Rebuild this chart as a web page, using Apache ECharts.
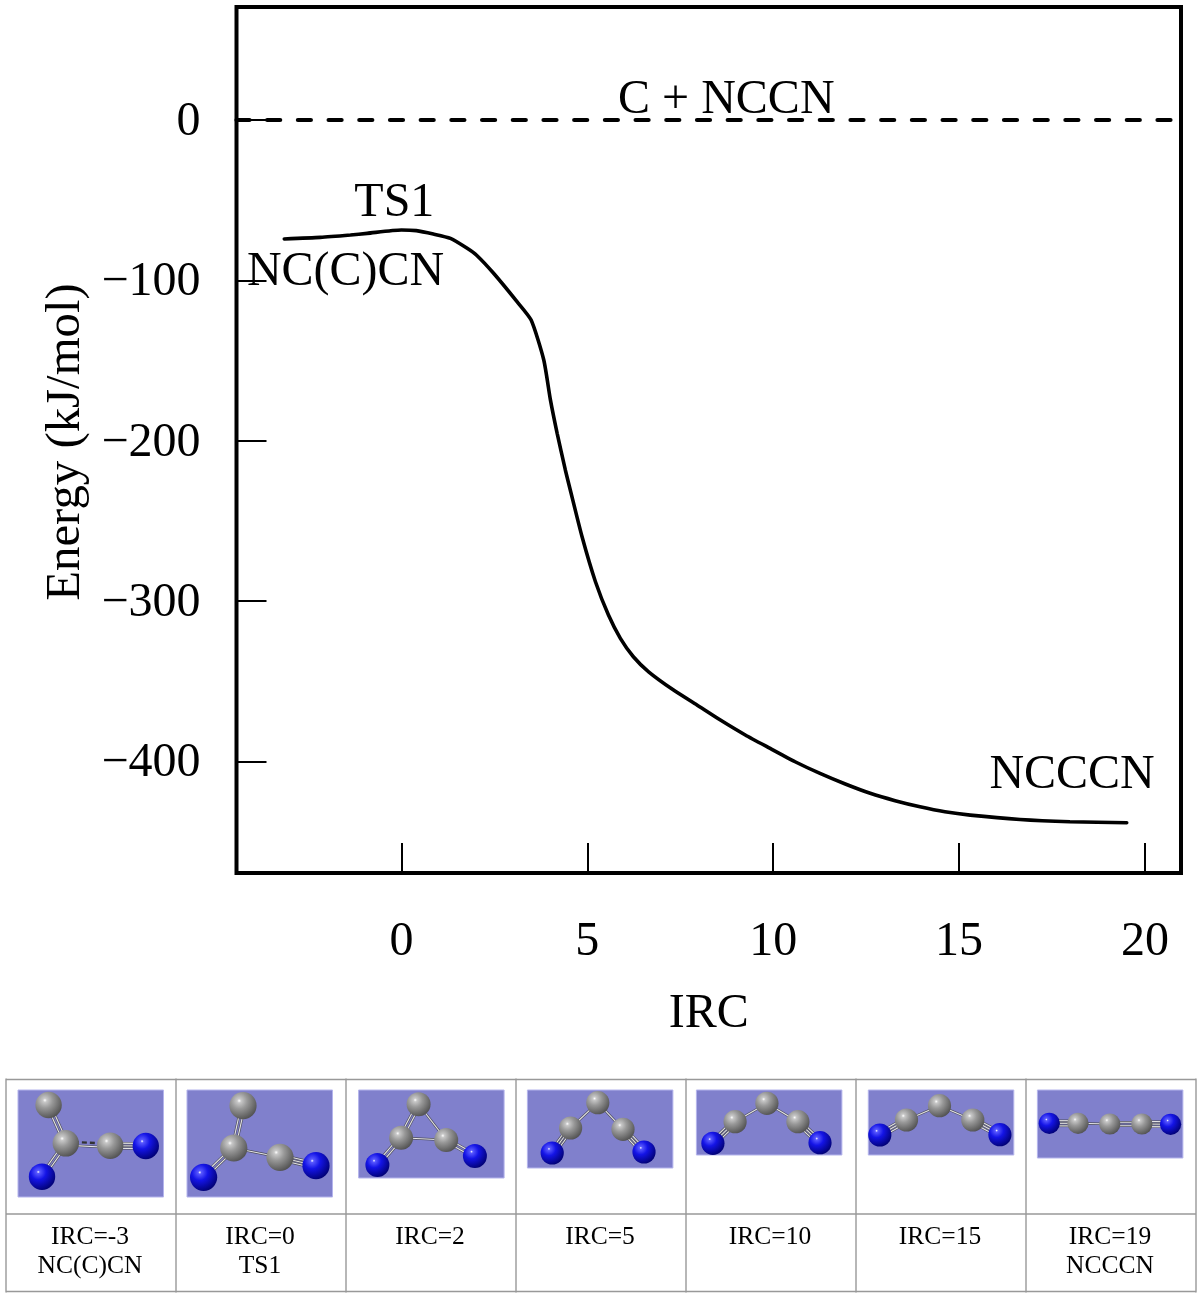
<!DOCTYPE html>
<html lang="en">
<head>
<meta charset="UTF-8">
<title>IRC energy profile</title>
<style>
  html, body { margin: 0; padding: 0; background: #fff; }
  #chart { width: 1200px; height: 1296px; }
</style>
<script src="https://cdn.jsdelivr.net/npm/echarts@6/dist/echarts.min.js"></script>
</head>
<body>
<div id="chart"></div>
<script>
// energy curve
var ircValues = [-3.15, -2.18, -1.37, -0.92, 0, 0.4, 0.86, 1.32, 1.77, 2.03, 2.48, 3.11, 3.49, 3.83, 4.01, 4.19, 4.41, 4.54, 4.86, 5.22, 5.57, 5.89, 6.24, 6.65, 7.32, 7.95, 8.58, 9.25, 9.92, 10.59, 11.26, 11.94, 12.61, 13.28, 13.95, 14.62, 15.3, 16.64, 17.98, 19.51];
var energyValues = [-74.2, -73.2, -71.7, -70.7, -68.6, -69, -71.1, -73.8, -80, -84.5, -95.6, -113.3, -124.8, -149.7, -174.7, -195.4, -218.3, -230.5, -260, -288, -308.8, -323.3, -334.8, -344.2, -355.6, -364.9, -374.3, -383.6, -392, -400.3, -407.6, -414.2, -420, -424.6, -428.4, -431.5, -433.6, -436.3, -437.7, -438.4];

var xTicks = [0, 5, 10, 15, 20];
var yTicks = [0, -100, -200, -300, -400];
var xRange = [-4.435, 20.97];
var yRange = [-469.7, 70.5];

var annotationTexts = ['C + NCCN', 'TS1', 'NC(C)CN', 'NCCCN'];
var annotationX = [8.74, -0.19, -1.5, 18.04];
var annotationY = [13.7, -50.5, -93.6, -407.4];

// table under the chart
var cellLabels = ['IRC=-3\nNC(C)CN', 'IRC=0\nTS1', 'IRC=2', 'IRC=5', 'IRC=10', 'IRC=15', 'IRC=19\nNCCCN'];

// molecules: atoms are [x, y, element] in panel units, bonds are [atom, atom, order]
var atoms0 = [[30.6, 15, 'C'], [47.8, 53.3, 'C'], [92.2, 55.7, 'C'], [127.8, 56, 'N'], [24, 86.7, 'N']];
var bonds0 = [[0, 1, 2], [1, 4, 2], [1, 2, 1.5], [2, 3, 3]];
var atoms1 = [[56, 15.7, 'C'], [46.8, 58, 'C'], [93, 67.3, 'C'], [129, 75.7, 'N'], [16.6, 87.3, 'N']];
var bonds1 = [[0, 1, 2], [1, 4, 2], [1, 2, 1], [2, 3, 3]];
var atoms2 = [[60, 14.3, 'C'], [42.5, 47.7, 'C'], [87.6, 50, 'C'], [18.8, 75, 'N'], [116.3, 66, 'N']];
var bonds2 = [[0, 1, 2], [0, 2, 1], [1, 2, 1], [1, 3, 2], [2, 4, 2]];
var atoms3 = [[70.4, 12.7, 'C'], [43.2, 38, 'C'], [95.6, 39.3, 'C'], [24.8, 63, 'N'], [116.6, 62, 'N']];
var bonds3 = [[0, 1, 1], [0, 2, 1], [1, 3, 3], [2, 4, 3]];
var atoms4 = [[70.5, 13.3, 'C'], [38.7, 31.7, 'C'], [101.5, 31.7, 'C'], [16.5, 53.3, 'N'], [123.6, 52.7, 'N']];
var bonds4 = [[0, 1, 1], [0, 2, 1], [1, 3, 3], [2, 4, 3]];
var atoms5 = [[71.2, 15.7, 'C'], [38.2, 30, 'C'], [104.5, 30, 'C'], [11.5, 45, 'N'], [131.6, 44.7, 'N']];
var bonds5 = [[0, 1, 1], [0, 2, 1], [1, 3, 3], [2, 4, 3]];
var atoms6 = [[11.9, 33.3, 'N'], [40.6, 33.3, 'C'], [72.4, 34, 'C'], [104.5, 34, 'C'], [133.2, 34.3, 'N']];
var bonds6 = [[0, 1, 3], [1, 2, 1], [2, 3, 2], [3, 4, 3]];

var moleculeAtoms = [atoms0, atoms1, atoms2, atoms3, atoms4, atoms5, atoms6];
var moleculeBonds = [bonds0, bonds1, bonds2, bonds3, bonds4, bonds5, bonds6];

// layout
var SERIF = '"Liberation Serif", "Times New Roman", serif';
var colEdges = [6, 176, 346, 516, 686, 856, 1026, 1196];
var rowEdges = [1079.5, 1214, 1291.5];
var panelLeft = [18, 187, 358.6, 527.4, 696.4, 868.3, 1037.4];
var panelHeight = [107, 107, 88, 78, 65, 65, 68];
var panelWidth = 145.5, panelTop = 1090;
var atomRadius = [13.2, 13.6, 12, 11.6, 11.6, 11.6, 10.6];

var carbonFill = new echarts.graphic.RadialGradient(0.36, 0.32, 0.74, [
  { offset: 0, color: '#ffffff' }, { offset: 0.1, color: '#c8c8c8' },
  { offset: 0.4, color: '#989898' }, { offset: 1, color: '#4e4e4e' }
]);
var nitrogenFill = new echarts.graphic.RadialGradient(0.36, 0.32, 0.74, [
  { offset: 0, color: '#ffffff' }, { offset: 0.08, color: '#5a5aff' },
  { offset: 0.4, color: '#1414e6' }, { offset: 1, color: '#00006e' }
]);

function renderBond(params, api) {
  var a = api.coord([api.value(0), api.value(1)]);
  var b = api.coord([api.value(2), api.value(3)]);
  var order = api.value(4);
  var dx = b[0] - a[0], dy = b[1] - a[1];
  var len = Math.sqrt(dx * dx + dy * dy);
  var nx = -dy / len, ny = dx / len;
  var offsets = order >= 3 ? [-2.6, 0, 2.6] : (order >= 1.5 ? [-1.8, 1.8] : [0]);
  var children = [];
  offsets.forEach(function (o, i) {
    var dashed = order === 1.5 && i === 0;
    var shape = { x1: a[0] + nx * o, y1: a[1] + ny * o, x2: b[0] + nx * o, y2: b[1] + ny * o };
    children.push({ type: 'line', shape: shape, style: { stroke: dashed ? '#333' : '#4c4c5c', lineWidth: 2.4, lineDash: dashed ? [5, 3] : null } });
    if (!dashed) {
      children.push({ type: 'line', shape: shape, style: { stroke: '#e4e4e4', lineWidth: 1.1 } });
    }
  });
  return { type: 'group', children: children };
}

var grids = [{ left: 236.5, top: 7, width: 944.5, height: 866, show: true, borderColor: '#000', borderWidth: 4, backgroundColor: 'transparent' }];
var xAxes = [{
  type: 'value', gridIndex: 0, min: xRange[0], max: xRange[1],
  name: 'IRC', nameLocation: 'middle', nameGap: 117,
  nameTextStyle: { fontFamily: SERIF, fontSize: 48, color: '#000' },
  splitLine: { show: false }, axisLine: { show: false, onZero: false },
  axisTick: { show: true, inside: true, length: 30, customValues: xTicks, lineStyle: { color: '#000', width: 2 } },
  axisLabel: { show: true, customValues: xTicks, margin: 45, fontFamily: SERIF, fontSize: 48, color: '#000' }
}];
var yAxes = [{
  type: 'value', gridIndex: 0, min: yRange[0], max: yRange[1],
  name: 'Energy (kJ/mol)', nameLocation: 'middle', nameGap: 146,
  nameTextStyle: { fontFamily: SERIF, fontSize: 48.8, color: '#000', padding: [0, 4, 0, 0] },
  splitLine: { show: false }, axisLine: { show: false, onZero: false },
  axisTick: { show: true, inside: true, length: 30, customValues: yTicks, lineStyle: { color: '#000', width: 2 } },
  axisLabel: {
    show: true, customValues: yTicks, margin: 36, fontFamily: SERIF, fontSize: 48, color: '#000',
    verticalAlign: 'top', lineHeight: 5,
    formatter: function (v) { return String(v).replace('-', '\u2212'); }
  }
}];

var series = [
  {
    type: 'line', xAxisIndex: 0, yAxisIndex: 0, symbol: 'none', smooth: 0.2,
    lineStyle: { color: '#000', width: 3.6, cap: 'round' },
    data: ircValues.map(function (x, i) { return [x, energyValues[i]]; })
  },
  {
    type: 'line', xAxisIndex: 0, yAxisIndex: 0, symbol: 'none',
    lineStyle: { color: '#000', width: 4.2, type: [13, 17.7], cap: 'round' },
    data: [[xRange[0], 0], [xRange[1], 0]]
  },
  {
    type: 'scatter', xAxisIndex: 0, yAxisIndex: 0, symbolSize: 0, z: 5,
    itemStyle: { opacity: 1 },
    label: {
      show: true, position: 'inside', align: 'center', verticalAlign: 'middle', offset: [0, 2],
      fontFamily: SERIF, fontSize: 48, color: '#000', opacity: 1,
      formatter: function (p) { return annotationTexts[p.dataIndex]; }
    },
    data: annotationX.map(function (x, i) { return [x, annotationY[i]]; })
  }
];

moleculeAtoms.forEach(function (atoms, m) {
  var idx = m + 1;
  grids.push({
    left: panelLeft[m], top: panelTop, width: panelWidth, height: panelHeight[m],
    show: true, backgroundColor: '#8080cc', borderColor: '#b4b4ec', borderWidth: 1
  });
  xAxes.push({ type: 'value', gridIndex: idx, min: 0, max: panelWidth, show: false });
  yAxes.push({ type: 'value', gridIndex: idx, min: 0, max: panelHeight[m], inverse: true, show: false });
  series.push({
    type: 'custom', xAxisIndex: idx, yAxisIndex: idx, renderItem: renderBond, clip: false, z: 3,
    encode: { x: [0, 2], y: [1, 3] },
    data: moleculeBonds[m].map(function (b) {
      return [atoms[b[0]][0], atoms[b[0]][1], atoms[b[1]][0], atoms[b[1]][1], b[2]];
    })
  });
  series.push({
    type: 'scatter', xAxisIndex: idx, yAxisIndex: idx, symbolSize: atomRadius[m] * 2, clip: false, z: 4,
    data: atoms.map(function (a) {
      return { value: [a[0], a[1]], itemStyle: { color: a[2] === 'N' ? nitrogenFill : carbonFill, opacity: 1 } };
    })
  });
});

// table rules and cell captions
var tableGraphics = [];
colEdges.forEach(function (x) {
  tableGraphics.push({ type: 'line', shape: { x1: x, y1: rowEdges[0] - 1, x2: x, y2: rowEdges[2] + 1 }, style: { stroke: '#999', lineWidth: 1.4 } });
});
rowEdges.forEach(function (y) {
  tableGraphics.push({ type: 'line', shape: { x1: colEdges[0], y1: y, x2: colEdges[7], y2: y }, style: { stroke: '#999', lineWidth: 1.4 } });
});
cellLabels.forEach(function (txt, i) {
  tableGraphics.push({
    type: 'text', x: (colEdges[i] + colEdges[i + 1]) / 2 - 1, y: 1223,
    style: { text: txt, fontFamily: SERIF, fontSize: 25.5, lineHeight: 29, fill: '#000', textAlign: 'center', textVerticalAlign: 'top' }
  });
});

var myChart = echarts.init(document.getElementById('chart'), null, { renderer: 'canvas' });
myChart.setOption({
  animation: false,
  backgroundColor: '#fff',
  grid: grids,
  xAxis: xAxes,
  yAxis: yAxes,
  series: series,
  graphic: tableGraphics
});
</script>
</body>
</html>
